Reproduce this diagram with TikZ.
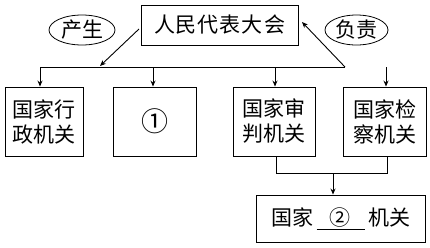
\documentclass[tikz,border=0pt]{standalone}
\usepackage{fontspec}
\setmainfont{Noto Sans CJK SC}
\usetikzlibrary{arrows.meta,shapes.geometric}
\begin{document}
\begin{tikzpicture}[x=1pt,y=-1pt,
  every node/.style={font=\fontsize{21}{25}\selectfont},
  box/.style={draw,line width=0.9pt,inner sep=0pt,align=center},
  oval/.style={draw,ellipse,line width=0.8pt,inner sep=0pt},
  conn/.style={line width=0.9pt},
  arr/.style={conn,-{Stealth[length=6pt,width=5pt]}}]
\useasboundingbox (0,0) rectangle (430,247);
\node[box,minimum width=157pt,minimum height=40pt] (top) at (219.5,25) {人\kern1pt 民\kern1pt 代\kern1pt 表\kern1pt 大\kern1pt 会};
\node[oval,minimum width=66pt,minimum height=30pt] (e1) at (82,30) {产生};
\node[oval,minimum width=63pt,minimum height=30pt] (e2) at (356.5,30) {负责};
\node[box,minimum width=78pt,minimum height=69pt] (b1) at (44,121.5) {国家行\\政机关};
\node[box,minimum width=83pt,minimum height=69pt,font=\fontsize{27}{27}\selectfont] (b2) at (154.5,121.5) {①};
\node[box,minimum width=82pt,minimum height=69pt] (b3) at (274,121.5) {国家审\\判机关};
\node[box,minimum width=83pt,minimum height=69pt] (b4) at (384.5,121.5) {国家检\\察机关};
\node[box,minimum width=169pt,minimum height=47pt] (b5) at (340.5,218.5) {国家\,\underline{\makebox[48pt]{②}}\,机关};
% junctions
\coordinate (hl) at (40,67);
\coordinate (hr) at (345,67);
\coordinate (j2) at (153,67);
\coordinate (j3) at (275,67);
\coordinate (j4) at (386,67);
\coordinate (ah) at (100,66);
\coordinate (tl) at (139,29);
\coordinate (tr) at (302,22);
\coordinate (d3) at (276,173);
\coordinate (d4) at (387,173);
\coordinate (dm) at (333,173);
\draw[conn] (hl) -- (hr);
\draw[arr] (tl) -- (ah);
\draw[arr] (hr) -- (tr);
\draw[arr] (hl) -- (hl |- b1.north);
\draw[arr] (j2) -- (j2 |- b2.north);
\draw[arr] (j3) -- (j3 |- b3.north);
\draw[arr] (j4) -- (j4 |- b4.north);
\draw[conn] (d3 |- b3.south) -- (d3) -- (d4) -- (d4 |- b4.south);
\draw[arr] (dm) -- (dm |- b5.north);
\end{tikzpicture}
\end{document}
